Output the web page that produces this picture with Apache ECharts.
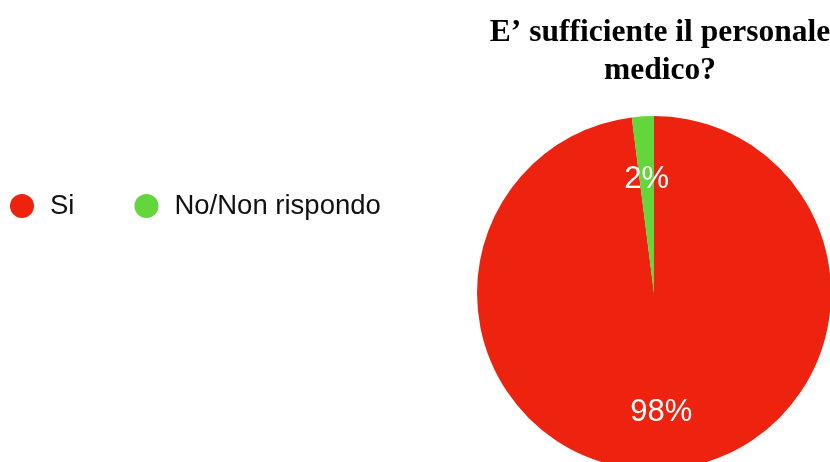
<!DOCTYPE html>
<html>
<head>
<meta charset="utf-8">
<script src="https://cdn.jsdelivr.net/npm/echarts@6/dist/echarts.min.js"></script>
<style>
  html, body { margin: 0; padding: 0; background: #fff; }
  #chart { width: 830px; height: 462px; }
</style>
</head>
<body>
<div id="chart"></div>
<script>
const categories = ['Si', 'No/Non rispondo']
const values = [98, 2]
const colors = ['#ED2310', '#62D63A']
const titleText = 'E\u2019 sufficiente il personale\nmedico?'

const chart = echarts.init(document.getElementById('chart'))

const pieData = categories.map((name, i) => ({
  name: name,
  value: values[i],
  itemStyle: { color: colors[i] }
}))

const option = {
  animation: false,
  title: {
    text: titleText,
    left: 655,
    top: 9,
    textAlign: 'center',
    textStyle: {
      fontFamily: 'Liberation Serif',
      fontWeight: 'bold',
      fontSize: 31.5,
      lineHeight: 38,
      color: '#000'
    }
  },
  legend: {
    data: categories,
    left: 5,
    top: 187,
    icon: 'circle',
    itemWidth: 24,
    itemHeight: 24,
    itemGap: 60,
    textStyle: {
      fontFamily: 'Liberation Sans',
      fontSize: 27.5,
      color: '#111',
      padding: [0, 0, 0, 11]
    }
  },
  series: [
    {
      type: 'pie',
      center: [654, 293],
      radius: 177,
      startAngle: 90,
      clockwise: true,
      label: { show: false },
      labelLine: { show: false },
      emphasis: { disabled: true },
      data: pieData
    },
    {
      // label-only ring so labels sit at ~0.65 of radius
      type: 'pie',
      center: [654, 296],
      radius: [51, 177],
      startAngle: 90,
      clockwise: true,
      silent: true,
      itemStyle: { color: 'rgba(0,0,0,0)' },
      label: {
        show: true,
        position: 'inside',
        formatter: '{d}%',
        color: '#fff',
        fontFamily: 'Liberation Sans',
        fontSize: 31
      },
      labelLine: { show: false },
      data: values.map((v, i) => ({ name: categories[i], value: v }))
    }
  ]
}

chart.setOption(option)
</script>
</body>
</html>
